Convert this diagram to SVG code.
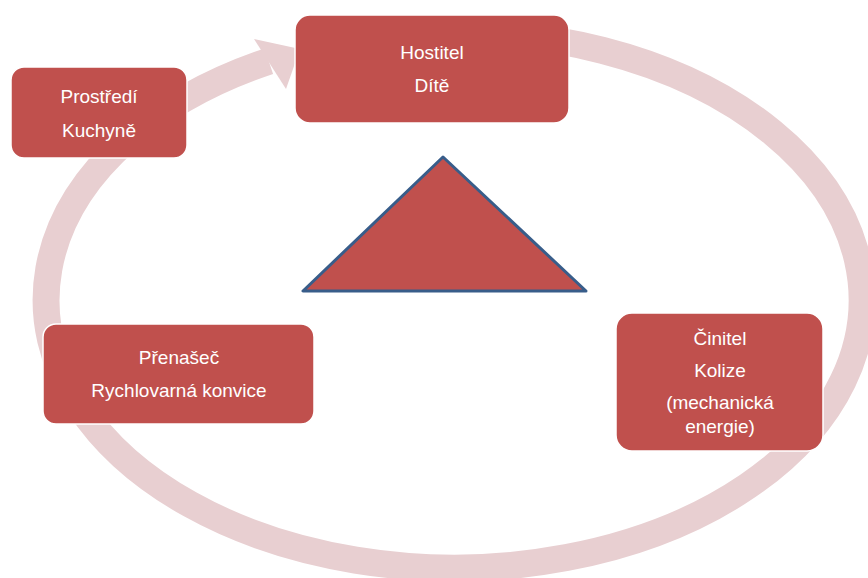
<svg xmlns="http://www.w3.org/2000/svg" width="868" height="578" viewBox="0 0 868 578">
<style>
.box{fill:#C0504D;stroke:#ffffff;stroke-width:1.5}
.lbl{font-family:"Liberation Sans",Arial,sans-serif;font-size:19px;fill:#ffffff;text-anchor:middle}
.ring{fill:none;stroke:#E8CFD1;stroke-width:27}
</style>
<rect width="868" height="578" fill="#ffffff"/>
<g id="connectors">
<path class="ring" d="M 418.4 33 A 408 268 0 1 1 268.8 61.2"/>
<polygon points="254,39 286,89 300,49" fill="#E8CFD1"/>
</g>
<g id="triangle">
<polygon points="443,157 303,291 586,291" fill="#C0504D" stroke="#385D8A" stroke-width="3" stroke-linejoin="round"/>
</g>
<g id="hostitel">
<rect class="box" x="295" y="15" width="274" height="108" rx="15"/>
<text class="lbl" x="432" y="59">Hostitel</text>
<text class="lbl" x="432" y="92">Dítě</text>
</g>
<g id="prostredi">
<rect class="box" x="11" y="67" width="176" height="91" rx="13"/>
<text class="lbl" x="99" y="103">Prostředí</text>
<text class="lbl" x="99" y="137">Kuchyně</text>
</g>
<g id="prenasec">
<rect class="box" x="43" y="324" width="271" height="100" rx="13"/>
<text class="lbl" x="179" y="364">Přenašeč</text>
<text class="lbl" x="179" y="397">Rychlovarná konvice</text>
</g>
<g id="cinitel">
<rect class="box" x="616" y="313" width="207" height="138" rx="16"/>
<text class="lbl" x="720" y="345">Činitel</text>
<text class="lbl" x="720" y="377">Kolize</text>
<text class="lbl" x="720" y="409">(mechanická</text>
<text class="lbl" x="720" y="433">energie)</text>
</g>
</svg>
